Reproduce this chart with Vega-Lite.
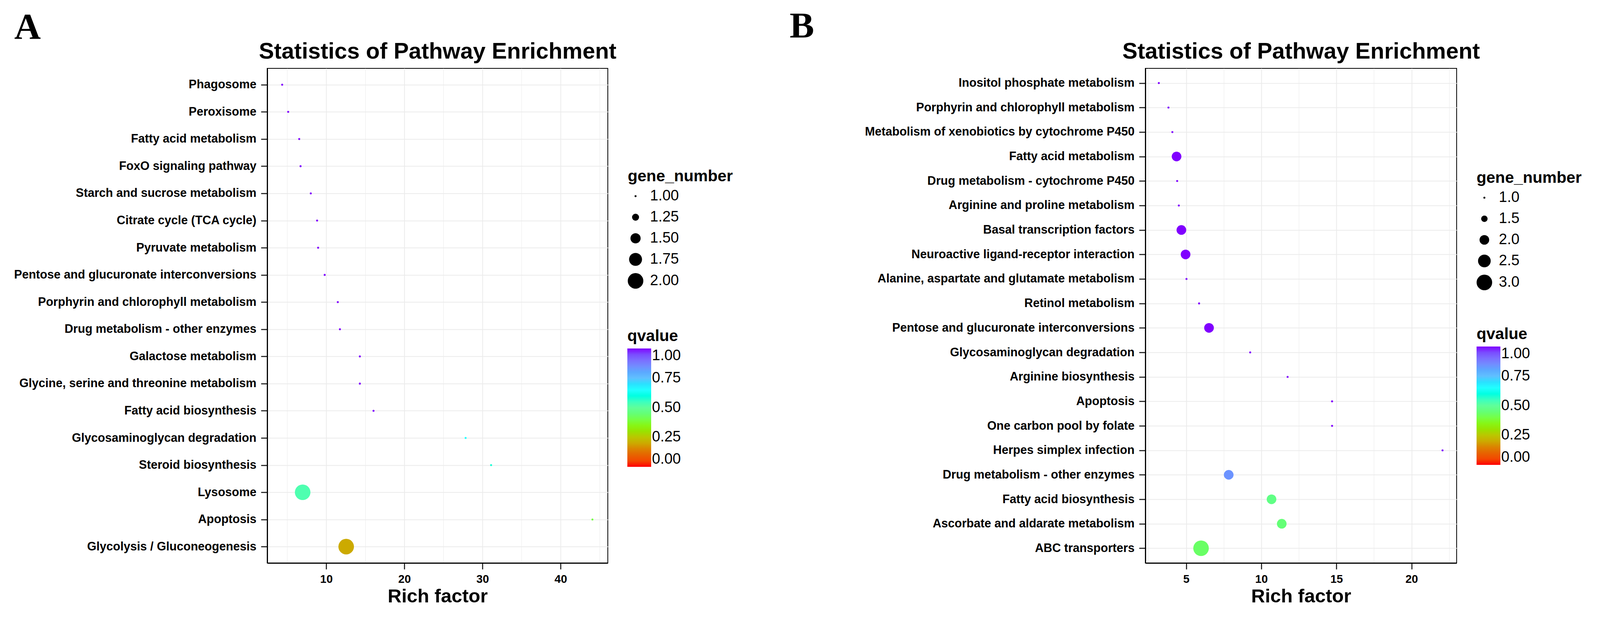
{
  "$schema": "https://vega.github.io/schema/vega-lite/v6.json",
  "background": "white",
  "padding": {"left": 34, "top": 19, "right": 30, "bottom": 12},
  "spacing": 143,
  "resolve": {"scale": {"color": "independent", "size": "independent"}, "legend": {"color": "independent", "size": "independent"}},
  "datasets": {
    "A": [
      {"pathway": "Phagosome", "rich_factor": 4.36, "qvalue": 1, "gene_number": 1},
      {"pathway": "Peroxisome", "rich_factor": 5.13, "qvalue": 1, "gene_number": 1},
      {"pathway": "Fatty acid metabolism", "rich_factor": 6.54, "qvalue": 1, "gene_number": 1},
      {"pathway": "FoxO signaling pathway", "rich_factor": 6.71, "qvalue": 1, "gene_number": 1},
      {"pathway": "Starch and sucrose metabolism", "rich_factor": 8.02, "qvalue": 1, "gene_number": 1},
      {"pathway": "Citrate cycle (TCA cycle)", "rich_factor": 8.83, "qvalue": 1, "gene_number": 1},
      {"pathway": "Pyruvate metabolism", "rich_factor": 8.96, "qvalue": 1, "gene_number": 1},
      {"pathway": "Pentose and glucuronate interconversions", "rich_factor": 9.80, "qvalue": 1, "gene_number": 1},
      {"pathway": "Porphyrin and chlorophyll metabolism", "rich_factor": 11.48, "qvalue": 1, "gene_number": 1},
      {"pathway": "Drug metabolism - other enzymes", "rich_factor": 11.75, "qvalue": 1, "gene_number": 1},
      {"pathway": "Galactose metabolism", "rich_factor": 14.30, "qvalue": 1, "gene_number": 1},
      {"pathway": "Glycine, serine and threonine metabolism", "rich_factor": 14.30, "qvalue": 1, "gene_number": 1},
      {"pathway": "Fatty acid biosynthesis", "rich_factor": 16.05, "qvalue": 1, "gene_number": 1},
      {"pathway": "Glycosaminoglycan degradation", "rich_factor": 27.84, "qvalue": 0.65, "gene_number": 1},
      {"pathway": "Steroid biosynthesis", "rich_factor": 31.10, "qvalue": 0.58, "gene_number": 1},
      {"pathway": "Lysosome", "rich_factor": 6.98, "qvalue": 0.53, "gene_number": 2},
      {"pathway": "Apoptosis", "rich_factor": 44.07, "qvalue": 0.40, "gene_number": 1},
      {"pathway": "Glycolysis / Gluconeogenesis", "rich_factor": 12.55, "qvalue": 0.20, "gene_number": 2}
    ],
    "B": [
      {"pathway": "Inositol phosphate metabolism", "rich_factor": 3.18, "qvalue": 1, "gene_number": 1},
      {"pathway": "Porphyrin and chlorophyll metabolism", "rich_factor": 3.82, "qvalue": 1, "gene_number": 1},
      {"pathway": "Metabolism of xenobiotics by cytochrome P450", "rich_factor": 4.08, "qvalue": 1, "gene_number": 1},
      {"pathway": "Fatty acid metabolism", "rich_factor": 4.36, "qvalue": 1, "gene_number": 2},
      {"pathway": "Drug metabolism - cytochrome P450", "rich_factor": 4.40, "qvalue": 1, "gene_number": 1},
      {"pathway": "Arginine and proline metabolism", "rich_factor": 4.51, "qvalue": 1, "gene_number": 1},
      {"pathway": "Basal transcription factors", "rich_factor": 4.68, "qvalue": 1, "gene_number": 2},
      {"pathway": "Neuroactive ligand-receptor interaction", "rich_factor": 4.96, "qvalue": 1, "gene_number": 2},
      {"pathway": "Alanine, aspartate and glutamate metabolism", "rich_factor": 5.02, "qvalue": 1, "gene_number": 1},
      {"pathway": "Retinol metabolism", "rich_factor": 5.86, "qvalue": 1, "gene_number": 1},
      {"pathway": "Pentose and glucuronate interconversions", "rich_factor": 6.52, "qvalue": 1, "gene_number": 2},
      {"pathway": "Glycosaminoglycan degradation", "rich_factor": 9.26, "qvalue": 1, "gene_number": 1},
      {"pathway": "Arginine biosynthesis", "rich_factor": 11.75, "qvalue": 1, "gene_number": 1},
      {"pathway": "Apoptosis", "rich_factor": 14.71, "qvalue": 1, "gene_number": 1},
      {"pathway": "One carbon pool by folate", "rich_factor": 14.71, "qvalue": 1, "gene_number": 1},
      {"pathway": "Herpes simplex infection", "rich_factor": 22.06, "qvalue": 1, "gene_number": 1},
      {"pathway": "Drug metabolism - other enzymes", "rich_factor": 7.83, "qvalue": 0.84, "gene_number": 2},
      {"pathway": "Fatty acid biosynthesis", "rich_factor": 10.68, "qvalue": 0.47, "gene_number": 2},
      {"pathway": "Ascorbate and aldarate metabolism", "rich_factor": 11.36, "qvalue": 0.45, "gene_number": 2},
      {"pathway": "ABC transporters", "rich_factor": 5.99, "qvalue": 0.43, "gene_number": 3}
    ]
  },
  "hconcat": [
    {
      "width": 872,
      "height": 1266,
      "data": {"name": "A"},
      "layer": [
        {
          "mark": {"type": "circle", "opacity": 1},
          "encoding": {
            "x": {
              "field": "rich_factor", "type": "quantitative",
              "scale": {"domain": [2.44, 46.04], "nice": false, "zero": false},
              "axis": {
                "orient": "bottom", "title": "Rich factor",
                "values": [5, 10, 15, 20, 25, 30, 35, 40, 45],
                "labelExpr": "datum.value % 10 === 0 ? datum.label : ''",
                "grid": true,
                "gridWidth": {"condition": {"test": "datum.value % 10 === 0", "value": 2}, "value": 1},
                "tickOpacity": {"condition": {"test": "datum.value % 10 === 0", "value": 1}, "value": 0}
              }
            },
            "y": {
              "field": "pathway", "type": "nominal",
              "sort": ["Phagosome", "Peroxisome", "Fatty acid metabolism", "FoxO signaling pathway", "Starch and sucrose metabolism", "Citrate cycle (TCA cycle)", "Pyruvate metabolism", "Pentose and glucuronate interconversions", "Porphyrin and chlorophyll metabolism", "Drug metabolism - other enzymes", "Galactose metabolism", "Glycine, serine and threonine metabolism", "Fatty acid biosynthesis", "Glycosaminoglycan degradation", "Steroid biosynthesis", "Lysosome", "Apoptosis", "Glycolysis / Gluconeogenesis"],
              "scale": {"type": "point", "padding": 0.6},
              "axis": {"title": "A", "titleX": -648, "titleY": -77}
            },
            "size": {
              "field": "gene_number", "type": "quantitative",
              "scale": {"type": "pow", "exponent": 2, "domain": [1, 2], "range": [26, 1589]},
              "legend": {"orient": "none", "legendX": 923, "legendY": 257, "values": [1, 1.25, 1.5, 1.75, 2], "format": ".2f"}
            },
            "color": {
              "field": "qvalue", "type": "quantitative",
              "scale": {"domain": [0, 0.13, 0.2, 0.31, 0.375, 0.51, 0.65, 0.75, 0.87, 1], "range": ["#ff0000", "#e07000", "#ccaa00", "#90e800", "#80ff20", "#60ffa0", "#20ffff", "#60c0ff", "#8080ff", "#8000ff"]},
              "legend": {"orient": "none", "legendX": 922, "legendY": 666, "values": [0, 0.25, 0.5, 0.75, 1], "format": ".2f"}
            }
          }
        },
        {
          "mark": {"type": "circle", "opacity": 0},
          "encoding": {
            "x": {
              "field": "rich_factor", "type": "quantitative",
              "axis": {"orient": "top", "title": "Statistics of Pathway Enrichment", "labels": false, "ticks": false, "domain": false, "grid": false, "titleFontSize": 58, "titlePadding": 26, "titleBaseline": "alphabetic"}
            }
          }
        }
      ],
      "resolve": {"axis": {"x": "independent"}}
    },
    {
      "width": 797,
      "height": 1266,
      "data": {"name": "B"},
      "layer": [
        {
          "mark": {"type": "circle", "opacity": 1},
          "encoding": {
            "x": {
              "field": "rich_factor", "type": "quantitative",
              "scale": {"domain": [2.28, 23.0], "nice": false, "zero": false},
              "axis": {
                "orient": "bottom", "title": "Rich factor",
                "values": [2.5, 5, 7.5, 10, 12.5, 15, 17.5, 20, 22.5],
                "labelExpr": "datum.value % 5 === 0 ? datum.label : ''",
                "grid": true,
                "gridWidth": {"condition": {"test": "datum.value % 5 === 0", "value": 2}, "value": 1},
                "tickOpacity": {"condition": {"test": "datum.value % 5 === 0", "value": 1}, "value": 0}
              }
            },
            "y": {
              "field": "pathway", "type": "nominal",
              "sort": ["Inositol phosphate metabolism", "Porphyrin and chlorophyll metabolism", "Metabolism of xenobiotics by cytochrome P450", "Fatty acid metabolism", "Drug metabolism - cytochrome P450", "Arginine and proline metabolism", "Basal transcription factors", "Neuroactive ligand-receptor interaction", "Alanine, aspartate and glutamate metabolism", "Retinol metabolism", "Pentose and glucuronate interconversions", "Glycosaminoglycan degradation", "Arginine biosynthesis", "Apoptosis", "One carbon pool by folate", "Herpes simplex infection", "Drug metabolism - other enzymes", "Fatty acid biosynthesis", "Ascorbate and aldarate metabolism", "ABC transporters"],
              "scale": {"type": "point", "padding": 0.6},
              "axis": {"title": "B", "titleX": -911, "titleY": -80}
            },
            "size": {
              "field": "gene_number", "type": "quantitative",
              "scale": {"type": "pow", "exponent": 2, "domain": [1, 3], "range": [26, 1589]},
              "legend": {"orient": "none", "legendX": 848, "legendY": 261, "values": [1, 1.5, 2, 2.5, 3], "format": ".1f"}
            },
            "color": {
              "field": "qvalue", "type": "quantitative",
              "scale": {"domain": [0, 0.13, 0.2, 0.31, 0.375, 0.51, 0.65, 0.75, 0.87, 1], "range": ["#ff0000", "#e07000", "#ccaa00", "#90e800", "#80ff20", "#60ffa0", "#20ffff", "#60c0ff", "#8080ff", "#8000ff"]},
              "legend": {"orient": "none", "legendX": 848, "legendY": 661, "values": [0, 0.25, 0.5, 0.75, 1], "format": ".2f"}
            }
          }
        },
        {
          "mark": {"type": "circle", "opacity": 0},
          "encoding": {
            "x": {
              "field": "rich_factor", "type": "quantitative",
              "axis": {"orient": "top", "title": "Statistics of Pathway Enrichment", "labels": false, "ticks": false, "domain": false, "grid": false, "titleFontSize": 58, "titlePadding": 26, "titleBaseline": "alphabetic"}
            }
          }
        }
      ],
      "resolve": {"axis": {"x": "independent"}}
    }
  ],
  "config": {
    "font": "Liberation Sans",
    "view": {"stroke": "black", "strokeWidth": 2},
    "axis": {
      "labelColor": "black", "titleColor": "black", "tickColor": "#333333", "domainColor": "black", "domainWidth": 3,
      "gridColor": "#ebebeb", "tickSize": 16, "tickWidth": 3, "labelFontWeight": "bold", "titleFontWeight": "bold"
    },
    "axisX": {"labelFontSize": 29, "labelPadding": 11, "titleFontSize": 49, "titlePadding": 5},
    "axisY": {
      "labelFontSize": 30.6, "labelPadding": 12, "labelLimit": 1200, "grid": true, "gridWidth": 2,
      "titleAngle": 0, "titleAlign": "left", "titleBaseline": "alphabetic", "titleFont": "Liberation Serif", "titleFontSize": 94
    },
    "legend": {
      "direction": "vertical", "padding": 0,
      "titleFontSize": 41, "titleFontWeight": "bold", "titleColor": "black", "titleBaseline": "top", "titleLimit": 600,
      "labelFontSize": 38, "labelColor": "black", "labelFont": "Liberation Sans", "labelLimit": 400,
      "symbolFillColor": "black", "symbolStrokeWidth": 0, "symbolOpacity": 1, "symbolType": "circle",
      "rowPadding": 16, "titlePadding": 10, "labelOffset": 17,
      "gradientLength": 303, "gradientThickness": 61, "gradientStrokeWidth": 0
    }
  }
}
